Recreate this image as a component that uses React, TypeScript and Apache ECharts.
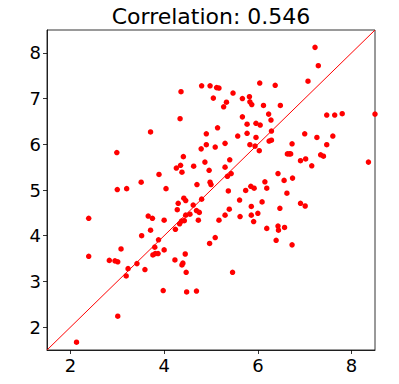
import React, { useEffect, useRef } from "react";
import * as echarts from "echarts";

const titleText = "Correlation: 0.546";
const xTicks = [2, 4, 6, 8];
const yTicks = [2, 3, 4, 5, 6, 7, 8];
const axisRange = [1.5, 8.5];
const diagLine = [1.5, 8.5];

const xs = [
  2.13, 2.39, 2.39, 2.83, 2.95, 3.01, 2.99, 3.0, 3.01, 3.08, 3.2, 3.19, 3.23, 3.42, 3.51, 3.52, 3.59, 3.66, 3.71, 3.71,
  3.75, 3.76, 3.8, 3.81, 3.87, 3.89, 3.88, 3.98, 4.0, 4.0, 4.04, 4.23, 4.24, 4.26, 4.28, 4.3, 4.33, 4.35, 4.36, 4.34,
  4.37, 4.38, 4.4, 4.38, 4.41, 4.42, 4.43, 4.45, 4.46, 4.47, 4.48, 4.46, 4.55, 4.62, 4.63, 4.69, 4.69, 4.7, 4.73, 4.75,
  4.79, 4.8, 4.8, 4.87, 4.9, 4.9, 4.96, 4.97, 4.98, 4.98, 5.0, 5.05, 5.09, 5.09, 5.12, 5.17, 5.14, 5.17, 5.27, 5.3,
  5.3, 5.3, 5.33, 5.35, 5.37, 5.39, 5.4, 5.43, 5.46, 5.47, 5.57, 5.61, 5.62, 5.67, 5.67, 5.74, 5.77, 5.77, 5.82, 5.83,
  5.87, 5.83, 5.85, 5.86, 5.86, 5.92, 5.91, 5.94, 5.96, 5.96, 6.0, 6.03, 6.04, 6.05, 6.09, 6.12, 6.15, 6.19, 6.19, 6.23,
  6.24, 6.28, 6.29, 6.29, 6.37, 6.39, 6.43, 6.43, 6.44, 6.47, 6.48, 6.56, 6.57, 6.62, 6.63, 6.67, 6.7, 6.73, 6.74, 6.73,
  6.91, 6.91, 7.0, 7.01, 7.02, 7.07, 7.15, 7.22, 7.26, 7.29, 7.34, 7.4, 7.47, 7.47, 7.6, 7.64, 7.8, 8.36, 8.5,
];
const ys = [
  1.67, 4.38, 3.55, 3.46, 3.45, 3.43, 5.82, 5.01, 2.24, 3.71, 5.03, 3.12, 3.28, 3.39, 5.17, 4.0, 3.26, 4.43, 6.27, 4.12,
  4.38, 3.58, 3.75, 3.61, 3.61, 5.34, 3.91, 2.8, 4.34, 3.69, 5.03, 3.47, 4.14, 5.48, 4.57, 4.71, 4.26, 5.54, 7.15, 6.56,
  4.32, 3.36, 3.4, 5.39, 5.73, 4.82, 4.33, 3.6, 4.77, 3.2, 2.77, 4.45, 4.47, 4.67, 5.52, 2.79, 4.55, 5.12, 4.34, 4.51,
  5.9, 4.8, 7.28, 5.61, 6.23, 5.99, 5.43, 3.83, 7.28, 5.17, 5.12, 7.01, 5.94, 3.96, 7.24, 7.23, 6.36, 4.34, 6.82, 6.02,
  5.5, 4.45, 6.92, 5.3, 4.98, 4.58, 5.66, 5.36, 3.2, 7.12, 6.18, 4.78, 4.42, 7.0, 6.6, 4.99, 6.44, 6.24, 7.04, 6.93,
  6.87, 5.99, 5.08, 4.64, 4.45, 5.04, 4.31, 5.96, 6.46, 6.15, 4.49, 5.86, 7.34, 6.42, 4.74, 6.85, 5.18, 4.16, 5.04, 6.66,
  6.07, 6.53, 6.09, 6.29, 7.29, 3.9, 5.36, 4.21, 4.12, 4.6, 6.85, 5.21, 4.18, 4.93, 5.79, 5.79, 5.79, 6.01, 5.26, 3.8,
  5.64, 4.71, 6.23, 4.65, 5.68, 7.38, 5.53, 8.12, 6.15, 7.72, 5.77, 5.74, 5.99, 6.64, 6.18, 6.64, 6.67, 5.61, 6.66,
];

export default function App() {
  const ref = useRef<HTMLDivElement>(null);
  useEffect(() => {
    if (!ref.current) return;
    const chart = echarts.init(ref.current, null, { renderer: "svg" });
    const points = xs.map((x, i) => [x, ys[i]]);
    const font = "DejaVu Sans";
    const axisCommon = {
      type: "value" as const,
      min: axisRange[0],
      max: axisRange[1],
      splitLine: { show: false },
      axisLine: { show: true, lineStyle: { color: "#000", width: 0.8 } },
    };
    chart.setOption({
      animation: false,
      title: {
        text: titleText,
        left: 206,
        textAlign: "center",
        top: 0,
        textStyle: { fontFamily: font, fontSize: 22, fontWeight: "normal", color: "#000" },
      },
      grid: {
        left: 47,
        right: 24,
        top: 30,
        bottom: 34,
        show: true,
        borderColor: "#000",
        borderWidth: 0.8,
        containLabel: false,
      },
      xAxis: {
        ...axisCommon,
        axisTick: { show: true, inside: false, length: 4, lineStyle: { color: "#000", width: 0.8 }, customValues: xTicks },
        axisLabel: { fontFamily: font, fontSize: 18, color: "#000", margin: 6, customValues: xTicks },
      },
      yAxis: {
        ...axisCommon,
        axisTick: { show: true, inside: false, length: 4, lineStyle: { color: "#000", width: 0.8 }, customValues: yTicks },
        axisLabel: { fontFamily: font, fontSize: 18, color: "#000", margin: 6, customValues: yTicks },
      },
      series: [
        {
          type: "line",
          data: [
            [diagLine[0], diagLine[0]],
            [diagLine[1], diagLine[1]],
          ],
          showSymbol: false,
          symbol: "none",
          lineStyle: { color: "#ff0000", width: 1 },
          silent: true,
          z: 1,
        },
        {
          type: "scatter",
          data: points,
          symbolSize: 5.5,
          itemStyle: { color: "#ff0000", opacity: 1 },
          clip: false,
          z: 2,
        },
      ],
    });
    return () => chart.dispose();
  }, []);
  return <div ref={ref} style={{ width: 399, height: 384, position: "absolute", left: 0, top: 0 }} />;
}
